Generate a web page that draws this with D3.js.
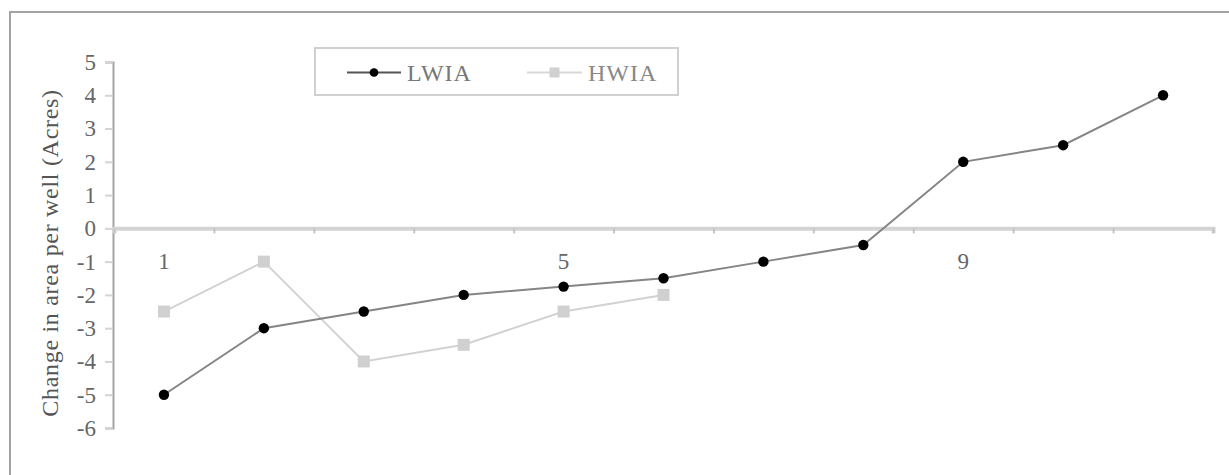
<!DOCTYPE html>
<html>
<head>
<meta charset="utf-8">
<script src="https://cdn.jsdelivr.net/npm/d3@7"></script>
<style>
html,body{margin:0;padding:0;background:#fff;}
svg{display:block;}
text{font-family:"Liberation Serif","Times New Roman",serif;}
</style>
</head>
<body>
<svg id="chart" width="1229" height="475"></svg>
<script>
const categories = [1,2,3,4,5,6,7,8,9,10,11];
const xLabels = ["1","","","","5","","","","9","",""];
const lwia = [-5,-3,-2.5,-2,-1.75,-1.5,-1,-0.5,2,2.5,4];
const hwia = [-2.5,-1,-4,-3.5,-2.5,-2,null,null,null,null,null];
const yTicks = [5,4,3,2,1,0,-1,-2,-3,-4,-5,-6];
const seriesNames = ["LWIA","HWIA"];
const yTitle = "Change in area per well (Acres)";

const svg = d3.select("#chart");

// outer frame
svg.append("path").attr("d","M10,475 L10,12 L1229,12")
  .attr("fill","none").attr("stroke","#a3a3a3").attr("stroke-width",2);

const x = d3.scaleBand().domain(categories).range([114,1213]).padding(0);
const xb = d3.scaleLinear().domain([0,categories.length]).range([114,1213]);
const y = d3.scaleLinear().domain([-6,5]).range([428,62]);

// y axis
const yAxis = svg.append("g").attr("transform","translate(113,0)")
  .call(d3.axisLeft(y).tickValues(yTicks).tickSize(8).tickFormat(d=>d));
yAxis.select(".domain").attr("stroke","#a3a3a3").attr("stroke-width",2);
yAxis.selectAll(".tick line").attr("stroke","#d4d4d4").attr("stroke-width",2);
yAxis.selectAll(".tick text").attr("x",-17).attr("fill","#666")
  .style("font-size","23px").style("font-family","Liberation Serif, serif");

// x axis at zero
const xAxis = svg.append("g").attr("transform",`translate(0,${y(0)})`)
  .call(d3.axisBottom(xb).tickValues(d3.range(0,categories.length+1)).tickSize(5).tickFormat(""));
xAxis.select(".domain").attr("stroke","#d4d4d4").attr("stroke-width",4);
xAxis.selectAll(".tick line").attr("stroke","#c4c4c4").attr("stroke-width",2);

// x labels
svg.append("g").selectAll("text").data(categories).enter().append("text")
  .attr("x",d=>x(d)+x.bandwidth()/2).attr("y",y(-1)+7)
  .attr("text-anchor","middle").attr("fill","#666")
  .style("font-size","23px")
  .text((d,i)=>xLabels[i]);

// y title
svg.append("text")
  .attr("transform",`translate(58,253) rotate(-90)`)
  .attr("text-anchor","middle").attr("fill","#555")
  .style("font-size","24px").style("letter-spacing","0.7px")
  .text(yTitle);

const cx = d=>x(d)+x.bandwidth()/2;

// HWIA
const hData = categories.map((c,i)=>({c,v:hwia[i]})).filter(d=>d.v!==null);
svg.append("path").datum(hData)
  .attr("d",d3.line().x(d=>cx(d.c)).y(d=>y(d.v)))
  .attr("fill","none").attr("stroke","#d2d2d2").attr("stroke-width",2);
svg.append("g").selectAll("rect").data(hData).enter().append("rect")
  .attr("x",d=>cx(d.c)-6).attr("y",d=>y(d.v)-6).attr("width",12).attr("height",12)
  .attr("fill","#d0d0d0");

// LWIA
const lData = categories.map((c,i)=>({c,v:lwia[i]}));
svg.append("path").datum(lData)
  .attr("d",d3.line().x(d=>cx(d.c)).y(d=>y(d.v)))
  .attr("fill","none").attr("stroke","#858585").attr("stroke-width",2);
svg.append("g").selectAll("path").data(lData).enter().append("path")
  .attr("transform",d=>`translate(${cx(d.c)},${y(d.v)})`)
  .attr("d",d3.symbol().type(d3.symbolCircle).size(85))
  .attr("fill","#000");

// legend
const lg = svg.append("g");
lg.append("rect").attr("x",315).attr("y",48).attr("width",363).attr("height",47)
  .attr("fill","#fff").attr("stroke","#d0d0d0").attr("stroke-width",2);
const legendItems = [
  {name:seriesNames[0], x1:347, x2:401, line:"#555", text:"#777"},
  {name:seriesNames[1], x1:527, x2:582, line:"#d8d8d8", text:"#888"}
];
legendItems.forEach((it,i)=>{
  lg.append("line").attr("x1",it.x1).attr("x2",it.x2).attr("y1",72.5).attr("y2",72.5)
    .attr("stroke",it.line).attr("stroke-width",2);
  const mx=(it.x1+it.x2)/2;
  if(i===0){
    lg.append("path").attr("transform",`translate(${mx},72.5)`)
      .attr("d",d3.symbol().type(d3.symbolCircle).size(60)).attr("fill","#000");
  } else {
    lg.append("rect").attr("x",mx-5).attr("y",67.5).attr("width",10).attr("height",10).attr("fill","#d0d0d0");
  }
  lg.append("text").attr("x",it.x2+6).attr("y",81).attr("fill",it.text)
    .style("font-size","24px").style("letter-spacing","1px").text(it.name);
});
</script>
</body>
</html>
